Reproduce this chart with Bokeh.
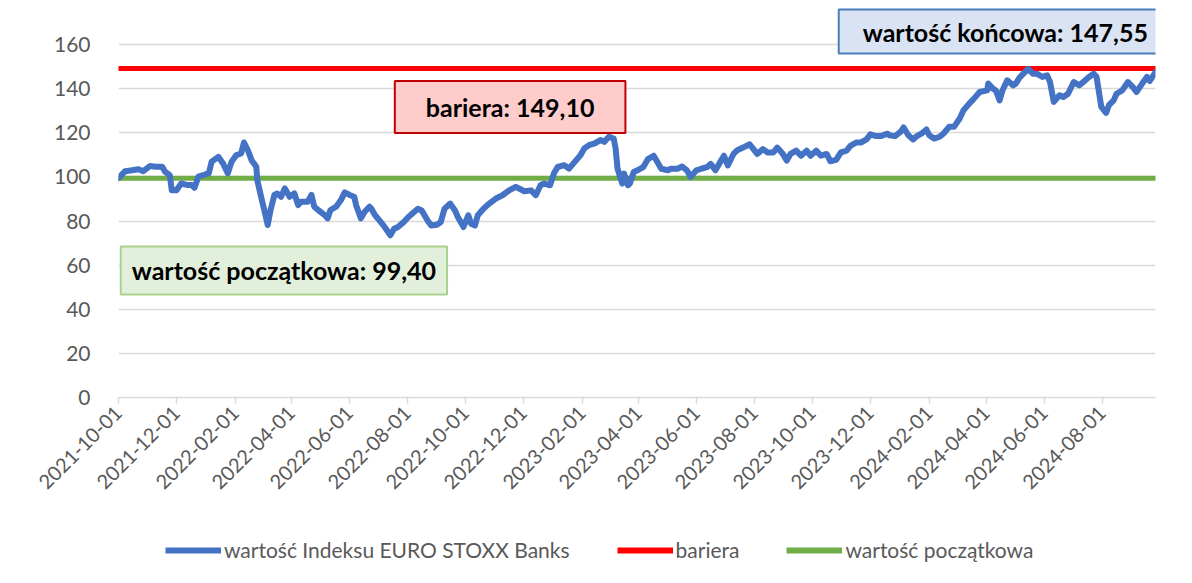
import pandas as pd
from bokeh.plotting import figure
from bokeh.layouts import column
from bokeh.models import Range1d, FixedTicker, Legend, LegendItem, Label, DatetimeTickFormatter
from bokeh.embed import file_html
from bokeh.resources import INLINE
from math import pi

# ---------------- data ----------------
dates = [
    "2021-10-01", "2021-10-04", "2021-10-08", "2021-10-15", "2021-10-22", "2021-10-27",
    "2021-11-03", "2021-11-09", "2021-11-16", "2021-11-19", "2021-11-24", "2021-11-26",
    "2021-12-01", "2021-12-06", "2021-12-13", "2021-12-17", "2021-12-20", "2021-12-24", "2021-12-31",
    "2022-01-04", "2022-01-07", "2022-01-14", "2022-01-19", "2022-01-24", "2022-01-28",
    "2022-02-02", "2022-02-07", "2022-02-10", "2022-02-14", "2022-02-18", "2022-02-23", "2022-02-24", "2022-02-28",
    "2022-03-03", "2022-03-07", "2022-03-10", "2022-03-14", "2022-03-17", "2022-03-21", "2022-03-25", "2022-03-30",
    "2022-04-04", "2022-04-08", "2022-04-11", "2022-04-18", "2022-04-22", "2022-04-25", "2022-04-29",
    "2022-05-06", "2022-05-09", "2022-05-12", "2022-05-18", "2022-05-23", "2022-05-27",
    "2022-06-01", "2022-06-06", "2022-06-08", "2022-06-13", "2022-06-17", "2022-06-22", "2022-06-24", "2022-06-28",
    "2022-07-04", "2022-07-08", "2022-07-14", "2022-07-18", "2022-07-22", "2022-07-28",
    "2022-08-02", "2022-08-08", "2022-08-12", "2022-08-16", "2022-08-22", "2022-08-26",
    "2022-09-01", "2022-09-05", "2022-09-09", "2022-09-15", "2022-09-20", "2022-09-23", "2022-09-29",
    "2022-10-04", "2022-10-07", "2022-10-11", "2022-10-14", "2022-10-20", "2022-10-26",
    "2022-11-02", "2022-11-09", "2022-11-16", "2022-11-23", "2022-11-28",
    "2022-12-02", "2022-12-09", "2022-12-14", "2022-12-19", "2022-12-23", "2022-12-29",
    "2023-01-02", "2023-01-06", "2023-01-13", "2023-01-18", "2023-01-24", "2023-01-30",
    "2023-02-03", "2023-02-08", "2023-02-14", "2023-02-20", "2023-02-24",
    "2023-03-01", "2023-03-06", "2023-03-08", "2023-03-10", "2023-03-15", "2023-03-17", "2023-03-21",
    "2023-03-23", "2023-03-27", "2023-03-31",
    "2023-04-06", "2023-04-11", "2023-04-17", "2023-04-20", "2023-04-25",
    "2023-05-02", "2023-05-05", "2023-05-12", "2023-05-17", "2023-05-22", "2023-05-26",
    "2023-06-01", "2023-06-06", "2023-06-12", "2023-06-16", "2023-06-21", "2023-06-26", "2023-06-30",
    "2023-07-04", "2023-07-10", "2023-07-14", "2023-07-20", "2023-07-27", "2023-07-31",
    "2023-08-04", "2023-08-10", "2023-08-15", "2023-08-21", "2023-08-25", "2023-08-31",
    "2023-09-04", "2023-09-08", "2023-09-14", "2023-09-19", "2023-09-25", "2023-09-29",
    "2023-10-05", "2023-10-10", "2023-10-16", "2023-10-20", "2023-10-26", "2023-10-31",
    "2023-11-06", "2023-11-10", "2023-11-16", "2023-11-21", "2023-11-27",
    "2023-12-01", "2023-12-07", "2023-12-12", "2023-12-19", "2023-12-21", "2023-12-27",
    "2024-01-02", "2024-01-05", "2024-01-10", "2024-01-15", "2024-01-19", "2024-01-24", "2024-01-29",
    "2024-02-01", "2024-02-06", "2024-02-12", "2024-02-16", "2024-02-22", "2024-02-27",
    "2024-03-04", "2024-03-08", "2024-03-14", "2024-03-19", "2024-03-25",
    "2024-04-02", "2024-04-03", "2024-04-08", "2024-04-11", "2024-04-15", "2024-04-18", "2024-04-23", "2024-04-29",
    "2024-05-02", "2024-05-06", "2024-05-10", "2024-05-15", "2024-05-20", "2024-05-24", "2024-05-30",
    "2024-06-04", "2024-06-07", "2024-06-11", "2024-06-17", "2024-06-21", "2024-06-26",
    "2024-07-02", "2024-07-08", "2024-07-12", "2024-07-18", "2024-07-23", "2024-07-26", "2024-07-31",
    "2024-08-05", "2024-08-08", "2024-08-13", "2024-08-16", "2024-08-22", "2024-08-28",
    "2024-09-02", "2024-09-06", "2024-09-12", "2024-09-17", "2024-09-20", "2024-09-26",
]
index_values = [
    99.4, 100.8, 102.6, 103.0, 103.5, 102.6,
    104.9, 104.6, 104.6, 102.3, 100.8, 94.0,
    94.0, 97.0, 96.3, 96.3, 95.1, 100.1, 101.1,
    101.6, 106.9, 109.1, 106.1, 101.6, 106.9,
    109.9, 110.6, 115.6, 112.2, 107.6, 104.6, 98.6, 91.0,
    85.7, 78.2, 85.0, 91.8, 92.5, 91.0, 94.8, 91.0,
    92.5, 87.2, 88.7, 88.7, 91.8, 86.5, 85.0,
    82.7, 81.2, 85.0, 86.5, 89.5, 93.0,
    91.8, 91.0, 87.2, 81.2, 84.2, 86.5, 85.6, 82.6,
    79.5, 77.3, 73.5, 76.5, 77.3, 79.5,
    81.8, 84.1, 85.6, 84.8, 80.3, 78.0,
    78.3, 79.5, 85.6, 87.9, 84.8, 81.8, 77.3,
    82.6, 78.8, 78.0, 82.6, 85.6, 87.9,
    90.2, 91.7, 93.9, 95.5, 94.4,
    93.5, 93.9, 91.7, 96.2, 97.0, 96.2,
    101.5, 104.5, 105.3, 103.8, 106.8, 109.8,
    112.9, 114.4, 115.2, 116.7, 115.9,
    118.2, 117.4, 112.9, 103.8, 97.0, 101.5, 96.2,
    97.0, 102.2, 103.0,
    104.4, 108.1, 109.6, 107.4, 103.7,
    103.0, 103.7, 103.7, 104.7, 103.0, 100.0,
    103.0, 103.7, 104.4, 105.9, 103.0, 106.7, 109.6,
    105.2, 110.4, 112.1, 113.3, 114.8, 112.6,
    110.4, 112.6, 111.1, 111.1, 113.3, 110.4,
    107.4, 110.4, 111.9, 109.6, 111.9, 109.6,
    111.9, 109.6, 110.4, 107.1, 107.7, 111.1,
    111.9, 114.1, 115.6, 115.6, 117.0,
    119.3, 118.5, 118.5, 119.6, 118.9, 118.5,
    120.5, 122.4, 118.9, 117.0, 118.5, 119.7, 121.5,
    118.9, 117.4, 118.2, 119.7, 122.7, 122.7,
    126.5, 130.2, 133.2, 135.5, 138.5,
    139.2, 142.3, 140.0, 139.2, 134.7, 139.2, 143.8, 141.5,
    142.3, 145.0, 146.8, 149.0, 146.8, 146.8, 145.3,
    146.0, 143.0, 134.0, 137.0, 136.2, 137.7,
    143.0, 141.5, 143.0, 145.3, 146.8, 145.3, 131.7,
    129.0, 132.5, 134.7, 137.7, 139.2, 143.0,
    140.8, 138.5, 142.3, 145.3, 143.5, 147.55,
]
barrier_value = 149.10
initial_value = 99.40
final_value = 147.55

tick_dates = [
    "2021-10-01", "2021-12-01", "2022-02-01", "2022-04-01", "2022-06-01", "2022-08-01",
    "2022-10-01", "2022-12-01", "2023-02-01", "2023-04-01", "2023-06-01", "2023-08-01",
    "2023-10-01", "2023-12-01", "2024-02-01", "2024-04-01", "2024-06-01", "2024-08-01",
]
y_ticks = [0, 20, 40, 60, 80, 100, 120, 140, 160]
series_names = ["wartość Indeksu EURO STOXX Banks", "bariera", "wartość początkowa"]
series_colors = ["#4472C4", "#FF0000", "#70AD47"]


def pl(v):
    return f"{v:.2f}".replace(".", ",")


box_texts = [f"wartość końcowa: {pl(final_value)}", f"bariera: {pl(barrier_value)}",
             f"wartość początkowa: {pl(initial_value)}"]
# annotation anchor positions (date, value) for the three boxes
box_anchor_dates = ["2024-04-21", "2022-11-17", "2022-03-24"]
box_anchor_values = [165.9, 131.7, 57.6]

# ---------------- plot ----------------
FONT = "Lato"
GREY = "#595959"
W = 1192
H_MAIN = 510
H_LEG = 583 - H_MAIN

dt = pd.to_datetime(dates)
p = figure(width=W, height=H_MAIN, x_axis_type="datetime", output_backend="svg",
           toolbar_location=None,
           x_range=Range1d(dt[0], dt[-1]), y_range=Range1d(0, 177.7),
           min_border_left=118, min_border_right=37, min_border_top=5, min_border_bottom=H_MAIN - 397)
p.outline_line_color = None
p.background_fill_color = "white"
p.border_fill_color = "white"

r_idx = p.line(dt, index_values, line_color=series_colors[0], line_width=6, line_join="round", line_cap="round")
r_bar = p.line([dt[0], dt[-1]], [barrier_value, barrier_value], line_color=series_colors[1], line_width=5,
               line_cap="round")
r_ini = p.line([dt[0], dt[-1]], [initial_value, initial_value], line_color=series_colors[2], line_width=5,
               line_cap="round")
p.renderers = [r_bar, r_ini, r_idx]

p.ygrid.grid_line_color = "#D9D9D9"
p.ygrid.grid_line_width = 1.5
p.xgrid.grid_line_color = None

p.yaxis.ticker = FixedTicker(ticks=y_ticks)
p.yaxis.axis_line_color = None
p.yaxis.major_tick_line_color = None
p.yaxis.minor_tick_line_color = None
p.yaxis.major_label_standoff = 22
p.yaxis.major_label_text_font = FONT
p.yaxis.major_label_text_font_size = "21px"
p.yaxis.major_label_text_color = GREY

tick_ms = [pd.Timestamp(d).value // 10**6 for d in tick_dates]
p.xaxis.ticker = FixedTicker(ticks=tick_ms)
fmt = "%Y-%m-%d"
p.xaxis.formatter = DatetimeTickFormatter(years=fmt, months=fmt, days=fmt, hours=fmt, minutes=fmt,
                                          hourmin=fmt, seconds=fmt, minsec=fmt, milliseconds=fmt,
                                          microseconds=fmt)
p.xaxis.axis_line_color = "#D9D9D9"
p.xaxis.axis_line_width = 1.5
p.xaxis.major_tick_line_color = "#D9D9D9"
p.xaxis.major_tick_line_width = 1.5
p.xaxis.major_tick_out = 6
p.xaxis.major_tick_in = 0
p.xaxis.minor_tick_line_color = None
p.xaxis.major_label_orientation = pi / 4
p.xaxis.major_label_standoff = 6
p.xaxis.major_label_text_font = FONT
p.xaxis.major_label_text_font_size = "20px"
p.xaxis.major_label_text_color = GREY

box_styles = [("#DAE3F3", "#4A7EBB"), ("#FFCCCC", "#C00000"), ("#E2EFDA", "#A9D18E")]
box_pads = [(24, 7), (31, 11), (11, 9)]
for txt, d, v, (fill, line), pad in zip(box_texts, box_anchor_dates, box_anchor_values, box_styles, box_pads):
    lab = Label(x=pd.Timestamp(d).value // 10**6, y=v, text=txt, text_align="center",
                text_baseline="middle", text_font=FONT, text_font_style="bold",
                text_font_size="25px", text_color="black",
                background_fill_color=fill, border_line_color=line, border_line_width=2,
                padding=pad)
    p.add_layout(lab)

# ---------------- legend strip (separate figure under the chart) ----------------
q = figure(width=W, height=H_LEG, output_backend="svg", toolbar_location=None,
           x_range=Range1d(0, 1), y_range=Range1d(0, 1),
           x_axis_location=None, y_axis_location=None,
           min_border_left=0, min_border_right=0, min_border_top=0, min_border_bottom=0)
q.outline_line_color = None
q.grid.visible = False
q.background_fill_color = "white"
q.border_fill_color = "white"
# same series, out of the strip's view; only their legend swatches show
l_idx = q.line(dt, index_values, line_color=series_colors[0], line_width=6)
l_bar = q.line([dt[0], dt[-1]], [barrier_value, barrier_value], line_color=series_colors[1], line_width=6)
l_ini = q.line([dt[0], dt[-1]], [initial_value, initial_value], line_color=series_colors[2], line_width=6)

legend = Legend(items=[LegendItem(label=series_names[0], renderers=[l_idx]),
                       LegendItem(label=series_names[1], renderers=[l_bar]),
                       LegendItem(label=series_names[2], renderers=[l_ini])],
                orientation="horizontal", location=(47, 21), margin=0,
                glyph_width=56, glyph_height=24, label_standoff=3, spacing=47, padding=5,
                label_text_font=FONT, label_text_font_size="21px", label_text_color=GREY,
                background_fill_alpha=0, border_line_color=None)
q.add_layout(legend, "center")

layout = column(p, q, spacing=0)
open("out.html", "w").write(file_html(layout, INLINE))
